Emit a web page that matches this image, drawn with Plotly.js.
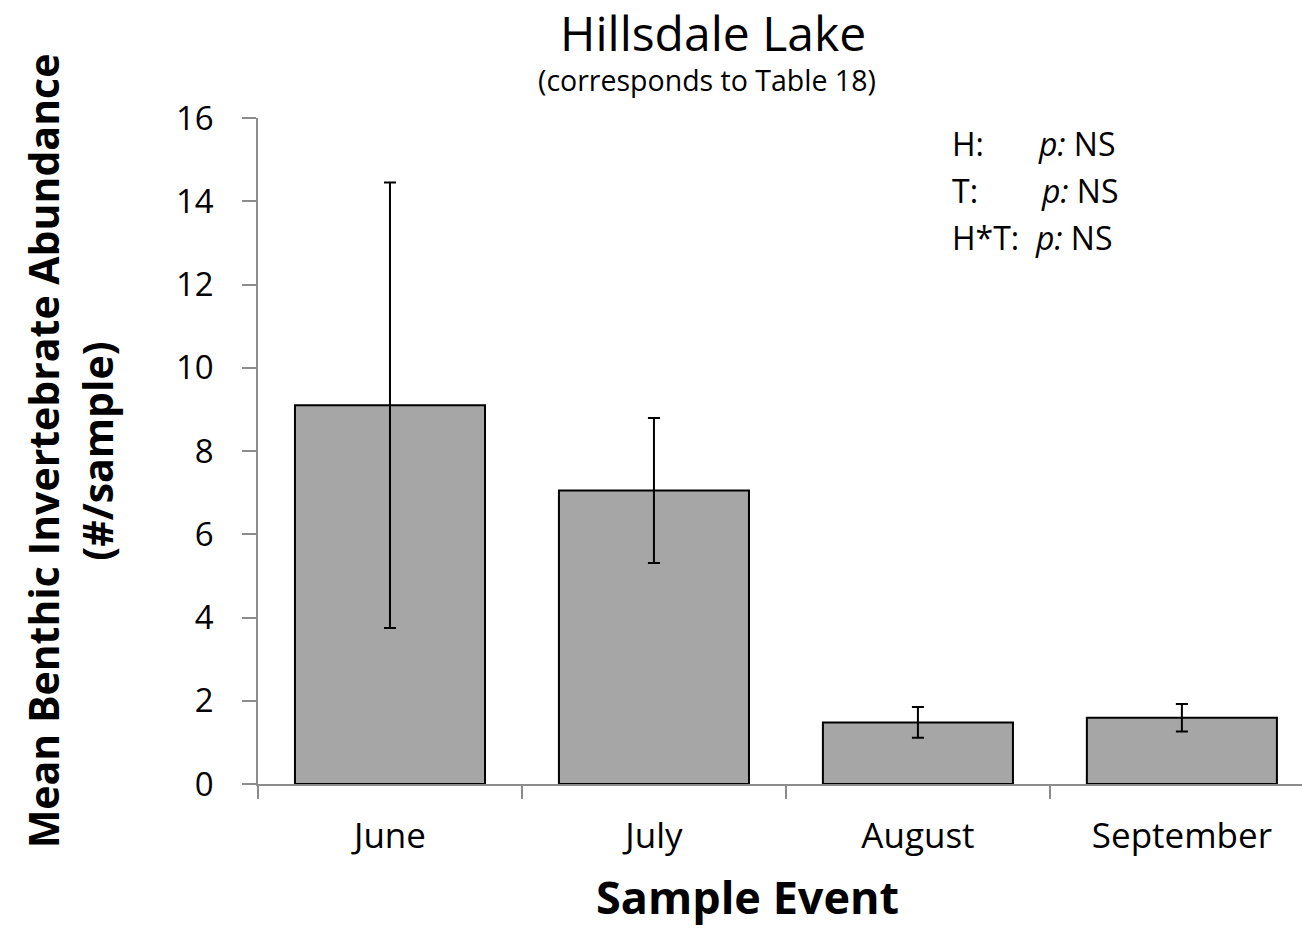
<!DOCTYPE html>
<html>
<head>
<meta charset="utf-8">
<script src="https://cdn.plot.ly/plotly-3.0.1.min.js"></script>
<style>html,body{margin:0;padding:0;background:#fff}#chart{width:1302px;height:928px}</style>
</head>
<body>
<div id="chart"></div>
<script>
const months = ["June", "July", "August", "September"];
const meanAbundance = [9.10, 7.05, 1.48, 1.59];
const errorValues = [5.35, 1.74, 0.37, 0.33];
const statLabels = ["H:", "T:", "H*T:"];
const statValues = ["NS", "NS", "NS"];

const FONT = "'Open Sans', sans-serif";

const trace = {
  type: "bar",
  x: months,
  y: meanAbundance,
  marker: {color: "#a6a6a6", line: {color: "#000", width: 2}},
  error_y: {type: "data", array: errorValues, visible: true, color: "#000", thickness: 2, width: 6},
  hoverinfo: "x+y"
};

const annotations = [
  {text: "Hillsdale Lake", xref: "paper", yref: "paper", x: 0.436, y: 1, yshift: 86, xanchor: "center", yanchor: "middle", showarrow: false, font: {family: FONT, size: 48, color: "#000"}},
  {text: "(corresponds to Table 18)", xref: "paper", yref: "paper", x: 0.43, y: 1, yshift: 38, xanchor: "center", yanchor: "middle", showarrow: false, font: {family: FONT, size: 28.5, color: "#000"}},
  {text: "<b>Sample Event</b>", xref: "paper", yref: "paper", x: 0.4693, y: 0, yshift: -112, xanchor: "center", yanchor: "middle", showarrow: false, font: {family: FONT, size: 45, color: "#000"}}
];
const statX = [0.663, 0.663, 0.663];
const pX = [0.745, 0.748, 0.742];
statLabels.forEach((lab, i) => {
  annotations.push({text: lab, xref: "paper", yref: "paper", x: statX[i], y: 0.962 - i * 0.0705, xanchor: "left", yanchor: "middle", showarrow: false, font: {family: FONT, size: 32, color: "#000"}});
  annotations.push({text: "<i>p:</i> " + statValues[i], xref: "paper", yref: "paper", x: pX[i], y: 0.962 - i * 0.0705, xanchor: "left", yanchor: "middle", showarrow: false, font: {family: FONT, size: 32, color: "#000"}});
});

const layout = {
  width: 1302, height: 928,
  margin: {l: 258, r: 0, t: 118, b: 144},
  paper_bgcolor: "#fff", plot_bgcolor: "#fff",
  bargap: 0.28,
  showlegend: false,
  xaxis: {
    range: [-0.5, 3.455],
    showline: true, linecolor: "#8c8c8c", linewidth: 1.5,
    ticks: "outside", tickson: "boundaries", ticklen: 13, tickcolor: "#8c8c8c", tickwidth: 1.5,
    ticklabelstandoff: 20,
    showgrid: false, zeroline: false,
    tickfont: {family: FONT, size: 35, color: "#000"}
  },
  yaxis: {
    range: [0, 16], dtick: 2,
    showline: true, linecolor: "#8c8c8c", linewidth: 1.5,
    ticks: "outside", ticklen: 14, tickcolor: "#8c8c8c", tickwidth: 1.5,
    ticklabelstandoff: 22,
    showgrid: false, zeroline: false,
    tickfont: {family: FONT, size: 33, color: "#000"},
    title: {text: "<b>Mean Benthic Invertebrate Abundance<br>(#/sample)</b>", font: {family: FONT, size: 41, color: "#000"}, standoff: 50}
  },
  annotations: annotations
};

Plotly.newPlot("chart", [trace], layout, {displayModeBar: false, responsive: false});
</script>
</body>
</html>
